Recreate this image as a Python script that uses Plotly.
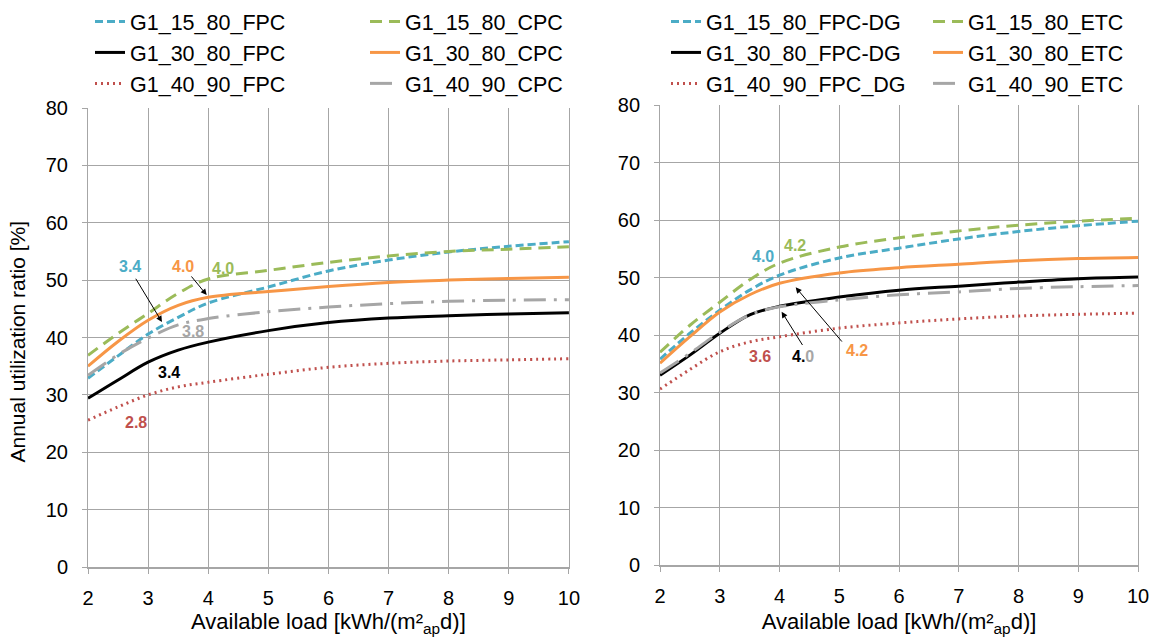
import plotly.graph_objects as go

# Available load [kWh/(m²ap d)]
x_load = [2, 2.5, 3, 3.5, 4, 5, 6, 7, 8, 9, 10]

# Left panel: FPC vs CPC collectors, annual utilization ratio [%]
g15_80_fpc = [32.9, 36.8, 40.6, 43.5, 46.0, 48.8, 51.6, 53.5, 54.9, 55.9, 56.7]
g15_80_cpc = [36.9, 40.7, 44.2, 47.7, 50.2, 51.7, 53.1, 54.2, 55.0, 55.4, 55.8]
g30_80_fpc = [29.4, 32.6, 35.7, 37.8, 39.2, 41.2, 42.6, 43.4, 43.8, 44.1, 44.3]
g30_80_cpc = [35.0, 39.3, 43.0, 45.6, 47.0, 48.0, 48.9, 49.6, 50.0, 50.3, 50.5]
g40_90_fpc = [25.6, 27.9, 30.0, 31.4, 32.2, 33.6, 34.8, 35.5, 35.9, 36.1, 36.3]
g40_90_cpc = [33.4, 37.0, 39.9, 42.2, 43.3, 44.5, 45.3, 45.9, 46.3, 46.5, 46.6]

# Right panel: FPC-DG vs ETC collectors
g15_80_fpcdg = [35.8, 40.3, 44.3, 47.8, 50.4, 53.4, 55.1, 56.7, 58.0, 59.0, 59.8]
g15_80_etc = [37.0, 41.7, 45.7, 49.6, 52.5, 55.3, 56.9, 58.1, 59.1, 59.8, 60.3]
g30_80_fpcdg = [33.0, 36.5, 40.3, 43.5, 45.0, 46.6, 47.8, 48.5, 49.2, 49.8, 50.1]
g30_80_etc = [35.1, 39.7, 44.0, 47.0, 49.0, 50.8, 51.7, 52.3, 52.9, 53.3, 53.5]
g40_90_fpcdg = [30.6, 34.0, 37.1, 38.8, 39.7, 41.2, 42.1, 42.8, 43.3, 43.6, 43.8]
g40_90_etc = [33.4, 36.8, 40.5, 43.5, 44.9, 46.1, 47.0, 47.5, 48.1, 48.4, 48.6]

x_ticks = [2, 3, 4, 5, 6, 7, 8, 9, 10]
y_ticks = [0, 10, 20, 30, 40, 50, 60, 70, 80]

BLUE = "#4bacc6"
GREEN = "#9bbb59"
BLACK = "#000000"
ORANGE = "#f79646"
RED = "#c0504d"
GREY = "#a6a6a6"
FONT = "Arial, Liberation Sans, sans-serif"

styles = {
    "15_80_a": dict(color=BLUE, dash="8px,4px"),
    "15_80_b": dict(color=GREEN, dash="12px,7px"),
    "30_80_a": dict(color=BLACK, dash="solid"),
    "30_80_b": dict(color=ORANGE, dash="solid"),
    "40_90_a": dict(color=RED, dash="2px,4px"),
    "40_90_b": dict(color=GREY, dash="22px,8px,3px,8px"),
}

series = [
    # name, values, style, axes, legend
    ("G1_15_80_FPC", g15_80_fpc, "15_80_a", "x", "y", "legend"),
    ("G1_30_80_FPC", g30_80_fpc, "30_80_a", "x", "y", "legend"),
    ("G1_40_90_FPC", g40_90_fpc, "40_90_a", "x", "y", "legend"),
    ("G1_15_80_CPC", g15_80_cpc, "15_80_b", "x", "y", "legend2"),
    ("G1_30_80_CPC", g30_80_cpc, "30_80_b", "x", "y", "legend2"),
    ("G1_40_90_CPC", g40_90_cpc, "40_90_b", "x", "y", "legend2"),
    ("G1_15_80_FPC-DG", g15_80_fpcdg, "15_80_a", "x2", "y2", "legend3"),
    ("G1_30_80_FPC-DG", g30_80_fpcdg, "30_80_a", "x2", "y2", "legend3"),
    ("G1_40_90_FPC_DG", g40_90_fpcdg, "40_90_a", "x2", "y2", "legend3"),
    ("G1_15_80_ETC", g15_80_etc, "15_80_b", "x2", "y2", "legend4"),
    ("G1_30_80_ETC", g30_80_etc, "30_80_b", "x2", "y2", "legend4"),
    ("G1_40_90_ETC", g40_90_etc, "40_90_b", "x2", "y2", "legend4"),
]

fig = go.Figure()
for name, vals, key, xa, ya, leg in series:
    st = styles[key]
    fig.add_trace(go.Scatter(
        x=x_load, y=vals, name=name, mode="lines",
        xaxis=xa, yaxis=ya, legend=leg, legendgroup=name,
        line=dict(color=st["color"], dash=st["dash"], width=3,
                  shape="spline", smoothing=1.0),
    ))

axis_common = dict(
    showgrid=True, gridcolor="#a6a6a6", gridwidth=1,
    showline=True, linecolor="#a6a6a6",
    ticks="outside", ticklen=5, tickcolor="#a6a6a6",
    tickfont=dict(size=20, color="black", family=FONT),
    zeroline=False,
)

xtitle = dict(text="Available load [kWh/(m²<sub>ap</sub>d)]",
              font=dict(size=22, color="black", family=FONT), standoff=10)

fig.update_layout(
    width=1157, height=637,
    margin=dict(l=88, r=19, t=105, b=70, autoexpand=False),
    paper_bgcolor="white", plot_bgcolor="white",
    font=dict(family=FONT, color="black"),
    xaxis=dict(domain=[0, 0.458], range=[2, 10], tickvals=x_ticks,
               anchor="y", mirror=False, linewidth=2, ticklabelstandoff=7,
               **axis_common, title=xtitle),
    yaxis=dict(domain=[0, 0.9935], range=[0, 80], tickvals=y_ticks,
               anchor="x", mirror=True, linewidth=1, ticklabelstandoff=10,
               **axis_common),
    xaxis2=dict(domain=[0.5448, 1.0], range=[2, 10], tickvals=x_ticks,
                anchor="y2", mirror=False, linewidth=2, ticklabelstandoff=7,
                **axis_common, title=xtitle),
    yaxis2=dict(domain=[0.0043, 1.0], range=[0, 80], tickvals=y_ticks,
                anchor="x2", mirror=True, linewidth=1, ticklabelstandoff=10,
                **axis_common),
)

# Shared y-axis title on the left
fig.add_annotation(text="Annual utilization ratio [%]", textangle=-90,
                   xref="paper", yref="paper", x=-0.080, y=0.487,
                   showarrow=False,
                   font=dict(size=21, color="black", family=FONT))

legend_common = dict(
    xref="container", yref="container", xanchor="left", yanchor="top",
    orientation="v", bgcolor="rgba(0,0,0,0)", borderwidth=0,
    font=dict(size=21.5, color="black", family=FONT), tracegroupgap=0,
    itemwidth=30,
)
fig.update_layout(
    legend=dict(x=90 / 1157, y=1 - 1 / 637, **legend_common),
    legend2=dict(x=365 / 1157, y=1 - 1 / 637, **legend_common),
    legend3=dict(x=666 / 1157, y=1 - 1 / 637, **legend_common),
    legend4=dict(x=928 / 1157, y=1 - 1 / 637, **legend_common),
)

# Value labels (x, y, text, colour) and pointer arrows (tail -> head)
left_labels = [
    (2.70, 52.3, "3.4", BLUE),
    (3.585, 52.3, "4.0", ORANGE),
    (4.25, 52.0, "4.0", GREEN),
    (3.75, 41.0, "3.8", GREY),
    (3.35, 33.9, "3.4", BLACK),
    (2.80, 25.1, "2.8", RED),
]
left_arrows = [
    ((2.78, 50.5), (3.23, 42.7)),
    ((3.70, 50.9), (3.975, 47.4)),
]
right_labels = [
    (3.73, 53.6, "4.0", BLUE),
    (4.26, 55.5, "4.2", GREEN),
    (3.67, 36.2, "3.6", RED),
    (4.40, 36.2, "<span style='color:#000000'>4.</span>"
                 "<span style='color:#a6a6a6'>0</span>", BLACK),
    (5.30, 37.3, "4.2", ORANGE),
]
right_arrows = [
    ((4.40, 38.0), (4.035, 44.05)),
    ((5.065, 38.6), (4.27, 48.3)),
]

for labels, arrows, xr, yr in [(left_labels, left_arrows, "x", "y"),
                               (right_labels, right_arrows, "x2", "y2")]:
    for lx, ly, txt, col in labels:
        fig.add_annotation(x=lx, y=ly, xref=xr, yref=yr, text=f"<b>{txt}</b>",
                           showarrow=False,
                           font=dict(size=16, color=col, family=FONT))
    for (tx, ty), (hx, hy) in arrows:
        fig.add_annotation(x=hx, y=hy, xref=xr, yref=yr, ax=tx, ay=ty,
                           axref=xr, ayref=yr, text="", showarrow=True,
                           arrowhead=2, arrowsize=1.2, arrowwidth=1,
                           arrowcolor="black", standoff=0, startstandoff=0)

fig.write_html("out.html")
